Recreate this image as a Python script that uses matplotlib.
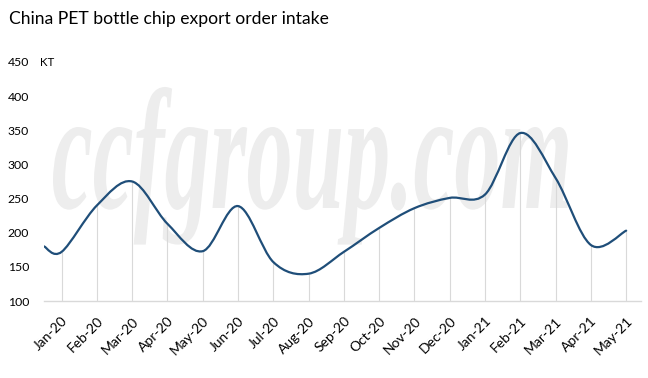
import numpy as np
import matplotlib
matplotlib.use("Agg")
import matplotlib.pyplot as plt
from matplotlib.path import Path
from matplotlib.patches import PathPatch
from matplotlib.textpath import TextPath
from matplotlib.font_manager import FontProperties
from matplotlib.transforms import Affine2D, IdentityTransform

months = ["Jan-20", "Feb-20", "Mar-20", "Apr-20", "May-20", "Jun-20", "Jul-20",
          "Aug-20", "Sep-20", "Oct-20", "Nov-20", "Dec-20", "Jan-21", "Feb-21",
          "Mar-21", "Apr-21", "May-21"]
# order intake (KT) at each month
intake = [172, 240, 275, 213, 173, 239, 157, 140, 172, 207, 236, 251, 256, 346, 280, 182, 203]
# the curve starts half a month before Jan-20
start_pos = -0.5
start_val = 180

line_color = "#1f4e79"
grid_color = "#d9d9d9"
plt.rcParams["font.family"] = ["Lato", "DejaVu Sans"]

fig = plt.figure(figsize=(6.48, 3.78), dpi=100)
ax = fig.add_axes([44 / 648, 77 / 378, 597 / 648, 239 / 378])

xs = np.concatenate([[start_pos], np.arange(len(months))])
ys = np.concatenate([[start_val], intake])

# smoothed line like a spreadsheet chart: Catmull-Rom style bezier segments
pts = np.column_stack([xs, ys])
verts = [pts[0]]
codes = [Path.MOVETO]
n = len(pts)
for i in range(n - 1):
    p0 = pts[i - 1] if i > 0 else pts[i]
    p1 = pts[i]
    p2 = pts[i + 1]
    p3 = pts[i + 2] if i + 2 < n else pts[i + 1]
    c1 = p1 + (p2 - p0) / 6
    c2 = p2 - (p3 - p1) / 6
    verts += [c1, c2, p2]
    codes += [Path.CURVE4] * 3
ax.add_patch(PathPatch(Path(verts, codes), facecolor="none", edgecolor=line_color,
                       lw=1.6, zorder=3, capstyle="round"))

# drop lines from axis to each month's value
ax.vlines(np.arange(len(months)), 100, intake, color=grid_color, lw=0.8, zorder=2)

ax.set_xlim(-0.5, 16.42)
ax.set_ylim(100, 450)
ax.set_yticks(range(100, 451, 50))
ax.set_xticks(np.arange(len(months)))
ax.set_xticklabels(months, rotation=45, ha="right", rotation_mode="anchor", fontsize=10)
ax.tick_params(axis="y", length=0, pad=10.8, labelsize=8.8)
ax.tick_params(axis="x", length=0, pad=10)
for s in ["top", "right", "left"]:
    ax.spines[s].set_visible(False)
ax.spines["bottom"].set_color(grid_color)
ax.spines["bottom"].set_linewidth(1)

fig.text(40 / 648, 1 - 62 / 378, "KT", fontsize=8.3, va="center", ha="left")
fig.text(9 / 648, 1 - 19 / 378, "China PET bottle chip export order intake",
         fontsize=12.6, va="center", ha="left")

# watermark
wm_font = FontProperties(family="Liberation Serif", style="italic", weight="bold")
tp = TextPath((0, 0), "ccfgroup.com", size=1, prop=wm_font)
xh = TextPath((0, 0), "c", size=1, prop=wm_font).get_extents().y1
ext = tp.get_extents()
sx = 515 / ext.width
sy = 81 / xh
wm_tr = Affine2D().translate(-ext.x0, 0).scale(sx, sy).translate(53, 378 - 208)
fig.patches.append(PathPatch(tp, transform=wm_tr + IdentityTransform(),
                             facecolor="#ededed", edgecolor="none", zorder=0))
ax.set_zorder(1)
ax.patch.set_alpha(0)

fig.savefig("out.png", dpi=100)
